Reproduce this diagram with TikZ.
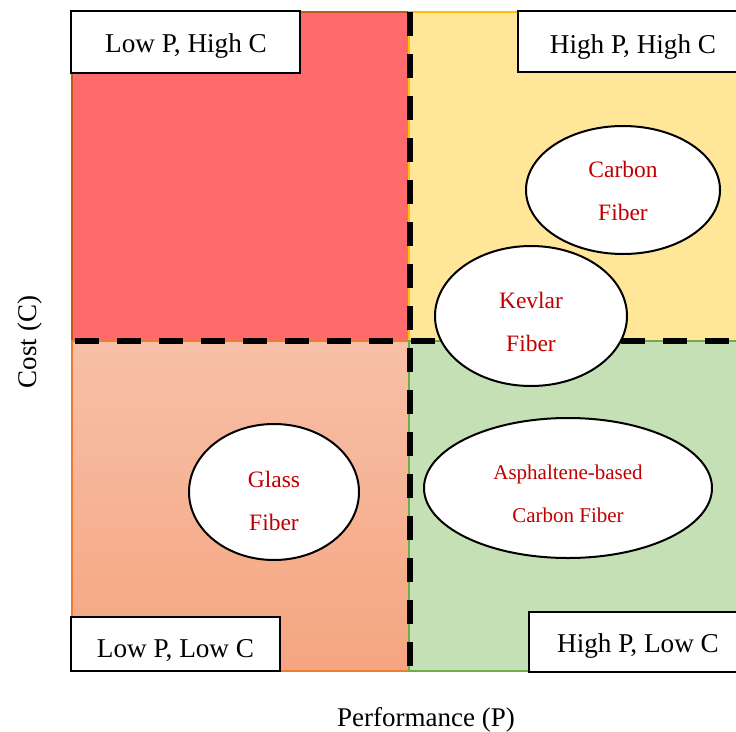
\documentclass[tikz,border=0pt]{standalone}
\usepackage{fontspec}
\setmainfont{Liberation Serif}
\usetikzlibrary{shapes.geometric}
\definecolor{qred}{RGB}{255,107,107}
\definecolor{qredb}{RGB}{190,90,30}
\definecolor{qyel}{RGB}{255,230,153}
\definecolor{qyelb}{RGB}{255,192,0}
\definecolor{qbltop}{RGB}{247,192,168}
\definecolor{qblbot}{RGB}{245,165,128}
\definecolor{qblb}{RGB}{237,125,49}
\definecolor{qgrn}{RGB}{197,224,180}
\definecolor{qgrnb}{RGB}{112,173,71}
\definecolor{fibred}{RGB}{192,0,0}
\tikzset{
  x=1pt, y=-1pt,
  quadbox/.style={draw=black, line width=2pt, fill=white, inner sep=0pt},
  quadtext/.style={inner sep=0pt, font=\fontsize{27.2}{30}\selectfont},
  fiber/.style={ellipse, draw=black, line width=2pt, fill=white, inner sep=0pt},
  fibertext/.style={inner sep=0pt, align=center, text=fibred, font=\fontsize{23.5}{43}\selectfont},
  divider/.style={line width=6pt, dash pattern=on 24pt off 18pt},
}
\begin{document}
\begin{tikzpicture}
\useasboundingbox (0,0) rectangle (736,731);
% quadrants
\path[fill=qred, draw=qredb, line width=1.5pt] (72,12) rectangle (409,341);
\path[fill=qyel, draw=qyelb, line width=1.5pt] (409,12) rectangle (737,341);
\path[top color=qbltop, bottom color=qblbot, draw=qblb, line width=1.2pt] (72,341) rectangle (409,671);
\path[fill=qgrn, draw=qgrnb, line width=1.2pt] (409,341) rectangle (737,671);
% dividers
\coordinate (vt) at (410,12);
\coordinate (vb) at (410,671);
\coordinate (hl) at (75,341);
\coordinate (hr) at (736,341);
\draw[divider] (vt) -- (vb);
\draw[divider] (hl) -- (hr);
% fibers
\node[fiber, minimum width=194pt, minimum height=128pt] (carbon) at (623,190) {};
\node[fibertext] (carbont) at ([yshift=-1pt]carbon.center) {Carbon\\Fiber};
\node[fiber, minimum width=192pt, minimum height=140pt] (kevlar) at (531,316) {};
\node[fibertext] (kevlart) at ([yshift=-6pt]kevlar.center) {Kevlar\\Fiber};
\node[fiber, minimum width=170pt, minimum height=136pt] (glass) at (274,492) {};
\node[fibertext] (glasst) at ([yshift=-9pt]glass.center) {Glass\\Fiber};
\node[fiber, minimum width=288pt, minimum height=140pt] (asph) at (568,488) {};
\node[fibertext, font=\fontsize{21}{43}\selectfont] (asphtext) at ([yshift=-6pt]asph.center) {Asphaltene-based\\Carbon Fiber};
% quadrant labels
\node[quadbox, minimum width=229pt, minimum height=62pt] (lphc) at (185.5,42) {};
\node[quadtext] (lphct) at ([xshift=0.5pt,yshift=-4pt]lphc.center) {Low P, High C};
\node[quadbox, minimum width=224pt, minimum height=61pt] (hphc) at (630,41.5) {};
\node[quadtext] (hphct) at ([xshift=3pt,yshift=-5pt]hphc.center) {High P, High C};
\node[quadbox, minimum width=209pt, minimum height=54pt] (lplc) at (175.5,644) {};
\node[quadtext] (lplct) at ([xshift=0pt,yshift=-7pt]lplc.center) {Low P, Low C};
\node[quadbox, minimum width=214pt, minimum height=60pt] (hplc) at (636,642) {};
\node[quadtext] (hplct) at ([xshift=2pt,yshift=-4pt]hplc.center) {High P, Low C};
% axis labels
\node[font=\fontsize{27}{30}\selectfont] (xlab) at (426,720) {Performance (P)};
\node[font=\fontsize{27}{30}\selectfont, rotate=90] (ylab) at (30,342) {Cost (C)};
\end{tikzpicture}
\end{document}
